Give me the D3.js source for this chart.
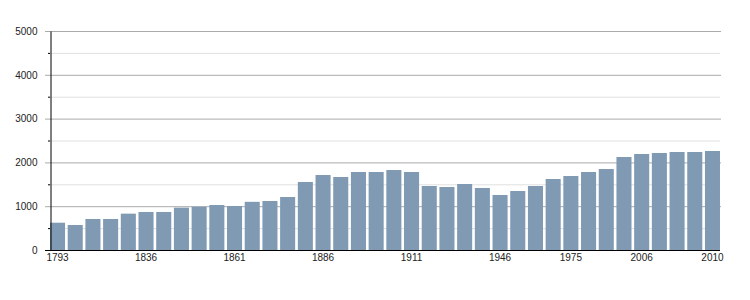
<!DOCTYPE html>
<html>
<head>
<meta charset="utf-8">
<script src="https://cdn.jsdelivr.net/npm/d3@7"></script>
<style>
  body { margin: 0; background: #fff; }
  text { font-family: "Liberation Sans", Arial, sans-serif; font-size: 10px; fill: #222; }
</style>
</head>
<body>
<svg id="chart" width="750" height="300"></svg>
<script>

let years = [1793, 1800, 1806, 1821, 1831, 1836, 1841, 1846, 1851, 1856,
  1861, 1866, 1872, 1876, 1881, 1886, 1891, 1896, 1901, 1906,
  1911, 1921, 1926, 1931, 1936, 1946, 1954, 1962, 1968, 1975,
  1982, 1990, 1999, 2006, 2007, 2008, 2009, 2010]

let population = [623, 571, 708, 708, 830, 868, 868, 967, 989, 1027,
  1005, 1100, 1119, 1210, 1553, 1712, 1667, 1781, 1781, 1826,
  1781, 1461, 1438, 1507, 1416, 1256, 1347, 1461, 1621, 1689,
  1781, 1849, 2123, 2192, 2215, 2237, 2237, 2260]

let shown_years = [1793, 1836, 1861, 1886, 1911, 1946, 1975, 2006, 2010]

let major_ticks = [0, 1000, 2000, 3000, 4000, 5000]
let minor_ticks = [500, 1500, 2500, 3500, 4500]

let svg = d3.select('#chart')

let m_left = 50, m_right = 720, m_top = 31, m_bottom = 250

let x = d3.scaleBand()
  .domain(years)
  .range([m_left, m_right])
  .paddingInner(0.15)
  .paddingOuter(0)

let y = d3.scaleLinear()
  .domain([0, 5000])
  .range([m_bottom, m_top])

// grid lines
svg.append('g')
  .selectAll('line')
  .data(minor_ticks)
  .join('line')
  .attr('x1', m_left).attr('x2', m_right)
  .attr('y1', d => y(d) + 0.5).attr('y2', d => y(d) + 0.5)
  .style('stroke', '#e0e0e0')

svg.append('g')
  .selectAll('line')
  .data(major_ticks.filter(d => d > 0))
  .join('line')
  .attr('x1', m_left - 5).attr('x2', m_right + 1)
  .attr('y1', d => y(d) + 0.5).attr('y2', d => y(d) + 0.5)
  .style('stroke', '#aaa')

// bars
svg.append('g')
  .selectAll('rect')
  .data(years)
  .join('rect')
  .attr('x', d => x(d))
  .attr('width', x.bandwidth())
  .attr('y', (d, i) => y(population[i]))
  .attr('height', (d, i) => y(0) - y(population[i]))
  .style('fill', '#7f9ab2')

// y axis
let yAxis = svg.append('g')
  .attr('transform', 'translate(' + (m_left + 0.5) + ',0)')
  .call(d3.axisLeft(y).tickValues(major_ticks).tickSize(0).tickPadding(13).tickFormat(d3.format('d')))
yAxis.select('.domain').style('stroke', '#000')
yAxis.selectAll('text').style('font-size', '10px').attr('fill', '#222')

svg.append('g')
  .selectAll('line')
  .data(minor_ticks)
  .join('line')
  .attr('x1', m_left - 2).attr('x2', m_left)
  .attr('y1', d => y(d) + 0.5).attr('y2', d => y(d) + 0.5)
  .style('stroke', '#000')

// x axis
let xAxis = svg.append('g')
  .attr('transform', 'translate(0,' + (m_bottom + 0.5) + ')')
  .call(d3.axisBottom(x).tickValues(shown_years).tickSize(0).tickPadding(3))
xAxis.select('.domain').attr('d', 'M' + (m_left - 5) + ',0H' + m_right).style('stroke', '#000')
xAxis.selectAll('text').style('font-size', '10px').attr('fill', '#222')

</script>
</body>
</html>
